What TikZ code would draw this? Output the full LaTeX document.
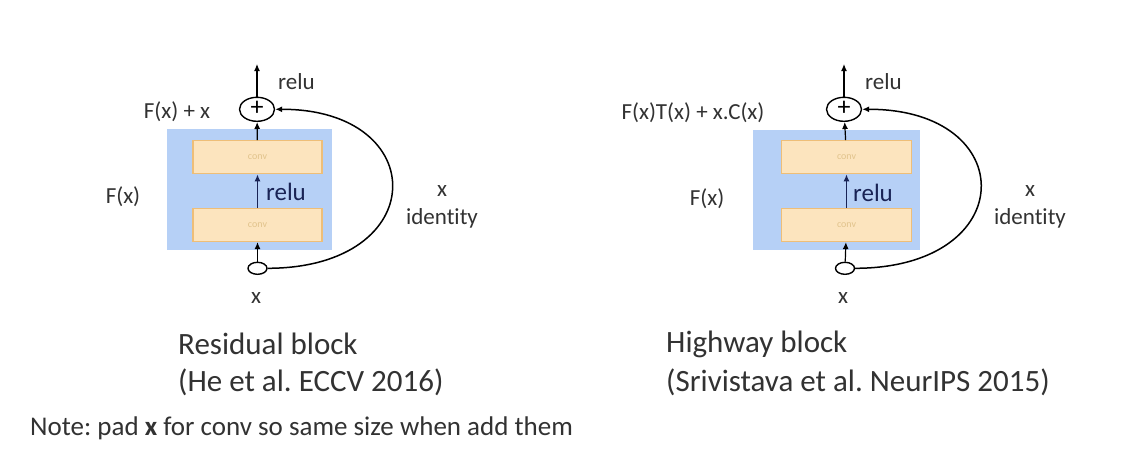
\documentclass[tikz,border=0pt]{standalone}
\usepackage{fontspec}
\setmainfont[Ligatures=NoCommon]{Carlito}
\usetikzlibrary{shapes.geometric,arrows.meta}
\definecolor{bluebg}{RGB}{182,208,246}
\definecolor{orfill}{RGB}{252,228,190}
\definecolor{ordraw}{RGB}{238,190,120}
\definecolor{txt}{RGB}{50,50,50}
\definecolor{navy}{RGB}{25,35,85}
\definecolor{convtxt}{RGB}{225,195,140}
\tikzset{
  bluebox/.style={draw=none,fill=bluebg,inner sep=0pt},
  convbox/.style={draw=ordraw,line width=1.2pt,fill=orfill,minimum width=129pt,minimum height=33pt,inner sep=0pt,font=\fontsize{10}{10}\selectfont,text=convtxt},
  addnode/.style={ellipse,draw=black,line width=1.4pt,minimum width=35pt,minimum height=24pt,inner sep=0pt,font=\fontsize{26}{26}\selectfont},
  innode/.style={ellipse,draw=black,line width=1.4pt,minimum width=19pt,minimum height=12pt,inner sep=0pt},
  lbl/.style={text=txt,font=\fontsize{23}{24}\selectfont,inner sep=0pt},
  midlbl/.style={text=navy,font=\fontsize{25}{26}\selectfont,inner sep=0pt},
  captxt/.style={text=txt,font=\fontsize{31}{32}\selectfont,inner sep=0pt,anchor=west},
  flow/.style={line width=1.2pt,-{Latex[length=7pt,width=6pt]}},
  skip/.style={line width=1.5pt,-{Latex[length=7pt,width=6pt]}}
}
\begin{document}
\frenchspacing
\begin{tikzpicture}[x=1pt,y=-1pt]
\useasboundingbox[fill=white] (0,0) rectangle (1142,452);
% ---------- Residual block ----------
\node[bluebox,minimum width=165pt,minimum height=121pt] (bgL) at (249,189.5) {};
\node[convbox] (c2L) at (257.5,157.3) {conv};
\node[convbox] (c1L) at (257.5,225) {conv};
\node[addnode] (addL) at (257,109.3) {\raisebox{1pt}{+}};
\node[innode] (inL) at (257.5,268.3) {};
\coordinate (outL) at (257,64);
\draw[flow] (inL) -- (c1L);
\draw[flow,draw=navy] (c1L) -- (c2L);
\draw[flow] (c2L) -- (addL);
\draw[flow] (addL) -- (outL);
\draw[skip] (inL.east) .. controls (432,268) and (432,109) .. (addL.east);
\node[lbl,anchor=west] (reluTL) at (278,82) {relu};
\node[lbl] (sumL) at (177,111.5) {F(x) + x};
\node[midlbl] (reluML) at (286,191.5) {relu};
\node[lbl] (FL) at (123,197) {F(x)};
\node[lbl] (xrL) at (442,191.5) {x};
\node[lbl] (idL) at (442,218) {identity};
\node[lbl] (xbL) at (256,298) {x};
\node[captxt] (capL1) at (178,344) {Residual block};
\node[captxt] (capL2) at (178,382) {(He et al. ECCV 2016)};
\node[captxt,font=\fontsize{27}{28}\selectfont] (note) at (30,428) {Note: pad \textbf{x} for conv so same size when add them};
% ---------- Highway block ----------
\node[bluebox,minimum width=167pt,minimum height=120pt] (bgR) at (836.5,190) {};
\node[convbox,minimum width=130pt] (c2R) at (846.5,157.3) {conv};
\node[convbox,minimum width=130pt] (c1R) at (846.5,225) {conv};
\node[addnode] (addR) at (844,109.3) {\raisebox{1pt}{+}};
\node[innode] (inR) at (845,268.3) {};
\coordinate (outR) at (844,64);
\draw[flow] (inR) -- (c1R);
\draw[flow,draw=navy] (c1R) -- (c2R);
\draw[flow] (c2R) -- (addR);
\draw[flow] (addR) -- (outR);
\draw[skip] (inR.east) .. controls (1021,268) and (1021,109) .. (addR.east);
\node[lbl,anchor=west] (reluTR) at (865,82) {relu};
\node[lbl] (sumR) at (693,113) {F(x)T(x) + x.C(x)};
\node[midlbl] (reluMR) at (873,192.5) {relu};
\node[lbl] (FR) at (707,199) {F(x)};
\node[lbl] (xrR) at (1030,191.5) {x};
\node[lbl] (idR) at (1030,218) {identity};
\node[lbl] (xbR) at (843,298) {x};
\node[captxt] (capR1) at (666,344) {Highway block};
\node[captxt] (capR2) at (666,382) {(Srivistava et al. NeurIPS 2015)};
\end{tikzpicture}
\end{document}
